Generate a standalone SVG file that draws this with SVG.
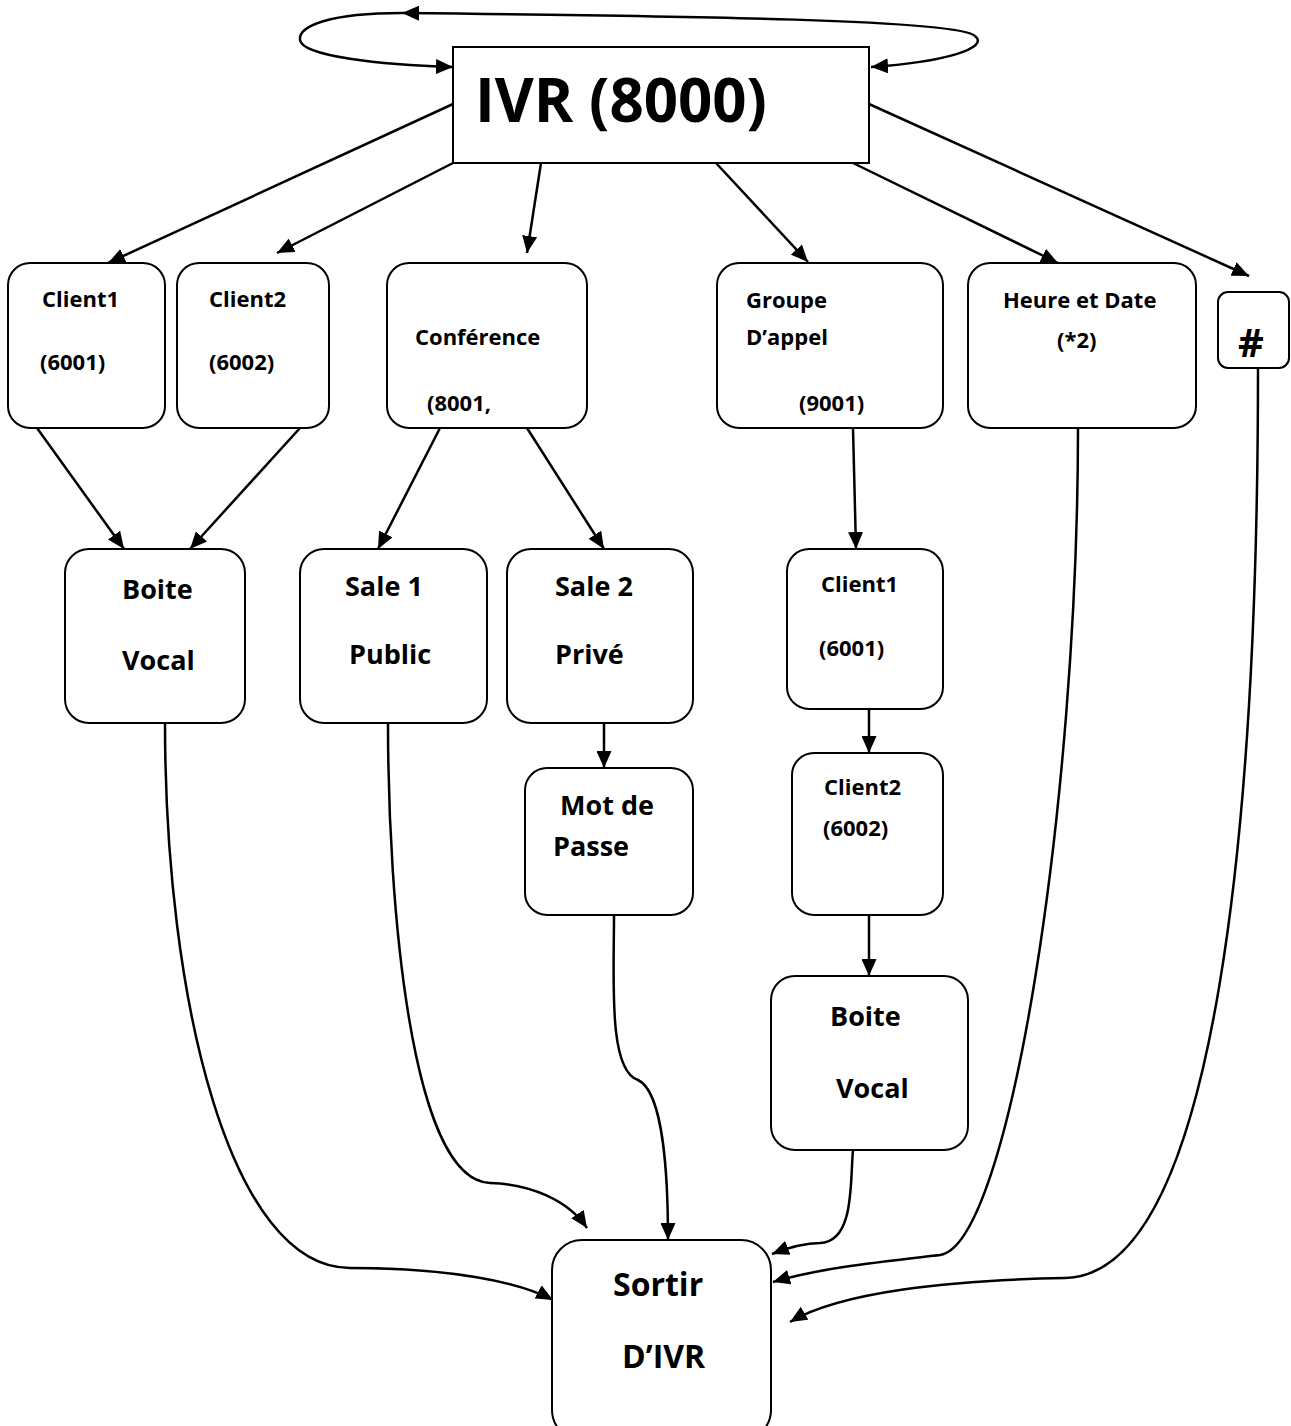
<svg xmlns="http://www.w3.org/2000/svg" width="1291" height="1426" viewBox="0 0 1291 1426">
  <style>
    .box { fill: #fff; stroke: #000; stroke-width: 2; }
    .t { font-family: "Open Sans", Lato, "Liberation Sans", sans-serif; font-weight: bold; fill: #000; }
    .s { font-size: 22px; }
    .m { font-size: 27px; }
    .l { font-size: 32px; }
    .edge { fill: none; stroke: #000; stroke-width: 2.5; marker-end: url(#arrow); }
  </style>
  <defs>
    <marker id="arrow" viewBox="0 0 17 15" refX="17" refY="7.5" markerWidth="17" markerHeight="15" markerUnits="userSpaceOnUse" orient="auto">
      <path d="M0,0 L17,7.5 L0,15 Z" fill="#000"/>
    </marker>
  </defs>
  <rect width="1291" height="1426" fill="#fff"/>

  <g id="connectors">
    <!-- self loop over the IVR box -->
    <path class="edge" d="M975,36 C990,48 945,62 871,67"/>
    <path class="edge" d="M975,36 C960,20 700,16 402,13"/>
    <path class="edge" d="M402,13 C330,13 298,26 300,40 C302,56 380,65 453,67"/>
    <!-- IVR to first level -->
    <path class="edge" d="M453,104 L108,263"/>
    <path class="edge" d="M453,163 L277,253"/>
    <path class="edge" d="M541,163 L527,253"/>
    <path class="edge" d="M716,163 L808,262"/>
    <path class="edge" d="M853,163 L1058,263"/>
    <path class="edge" d="M869,104 L1249,276"/>
    <!-- second level -->
    <path class="edge" d="M37,428 L124,549"/>
    <path class="edge" d="M300,428 L190,549"/>
    <path class="edge" d="M440,428 L378,549"/>
    <path class="edge" d="M527,428 L604,549"/>
    <path class="edge" d="M853,428 L856,549"/>
    <path class="edge" d="M604,723 L604,768"/>
    <path class="edge" d="M869,709 L869,753"/>
    <path class="edge" d="M869,915 L869,976"/>
    <!-- curves into Sortir -->
    <path class="edge" d="M165,723 C165,1000 230,1268 350,1268 C450,1268 520,1282 553,1300"/>
    <path class="edge" d="M388,723 C388,900 410,1180 490,1183 C530,1184 568,1200 587,1228"/>
    <path class="edge" d="M614,915 C614,980 608,1070 638,1080 C664,1092 668,1180 668,1240"/>
    <path class="edge" d="M853,1150 C850,1180 855,1242 820,1243 C805,1243 790,1247 772,1254"/>
    <path class="edge" d="M1078,428 C1078,800 1010,1245 940,1255 C880,1262 820,1268 773,1282"/>
    <path class="edge" d="M1258,368 C1258,800 1220,1275 1065,1278 C950,1280 840,1292 790,1322"/>
  </g>

  <g id="ivr">
    <rect class="box" x="453" y="47" width="416" height="116"/>
    <text class="t" x="475" y="122" font-size="60">IVR (8000)</text>
  </g>

  <g id="client1">
    <rect class="box" x="8" y="263" width="157" height="165" rx="22"/>
    <text class="t s" x="42" y="307">Client1</text>
    <text class="t s" x="40" y="370">(6001)</text>
  </g>

  <g id="client2">
    <rect class="box" x="177" y="263" width="152" height="165" rx="22"/>
    <text class="t s" x="209" y="307">Client2</text>
    <text class="t s" x="209" y="370">(6002)</text>
  </g>

  <g id="conference">
    <rect class="box" x="387" y="263" width="200" height="165" rx="22"/>
    <text class="t s" x="415" y="345">Conférence</text>
    <text class="t s" x="427" y="411">(8001,</text>
  </g>

  <g id="groupe">
    <rect class="box" x="717" y="263" width="226" height="165" rx="22"/>
    <text class="t s" x="746" y="308">Groupe</text>
    <text class="t s" x="746" y="345">D’appel</text>
    <text class="t s" x="799" y="411">(9001)</text>
  </g>

  <g id="heure">
    <rect class="box" x="968" y="263" width="228" height="165" rx="22"/>
    <text class="t s" x="1003" y="308">Heure et Date</text>
    <text class="t s" x="1057" y="348">(*2)</text>
  </g>

  <g id="diese">
    <rect class="box" x="1218" y="292" width="71" height="76" rx="10"/>
    <text class="t" x="1238" y="357" font-size="40">#</text>
  </g>

  <g id="boite1">
    <rect class="box" x="65" y="549" width="180" height="174" rx="24"/>
    <text class="t m" x="122" y="599">Boite</text>
    <text class="t m" x="122" y="670">Vocal</text>
  </g>

  <g id="sale1">
    <rect class="box" x="300" y="549" width="187" height="174" rx="24"/>
    <text class="t m" x="345" y="596">Sale 1</text>
    <text class="t m" x="349" y="664">Public</text>
  </g>

  <g id="sale2">
    <rect class="box" x="507" y="549" width="186" height="174" rx="24"/>
    <text class="t m" x="555" y="596">Sale 2</text>
    <text class="t m" x="555" y="664">Privé</text>
  </g>

  <g id="groupe-client1">
    <rect class="box" x="787" y="549" width="156" height="160" rx="22"/>
    <text class="t s" x="821" y="592">Client1</text>
    <text class="t s" x="819" y="656">(6001)</text>
  </g>

  <g id="mot-de-passe">
    <rect class="box" x="525" y="768" width="168" height="147" rx="22"/>
    <text class="t m" x="560" y="815">Mot de</text>
    <text class="t m" x="553" y="856">Passe</text>
  </g>

  <g id="groupe-client2">
    <rect class="box" x="792" y="753" width="151" height="162" rx="22"/>
    <text class="t s" x="824" y="795">Client2</text>
    <text class="t s" x="823" y="836">(6002)</text>
  </g>

  <g id="boite2">
    <rect class="box" x="771" y="976" width="197" height="174" rx="24"/>
    <text class="t m" x="830" y="1026">Boite</text>
    <text class="t m" x="836" y="1098">Vocal</text>
  </g>

  <g id="sortir">
    <rect class="box" x="552" y="1240" width="219" height="200" rx="30"/>
    <text class="t l" x="613" y="1296">Sortir</text>
    <text class="t l" x="622" y="1368">D’IVR</text>
  </g>
</svg>
